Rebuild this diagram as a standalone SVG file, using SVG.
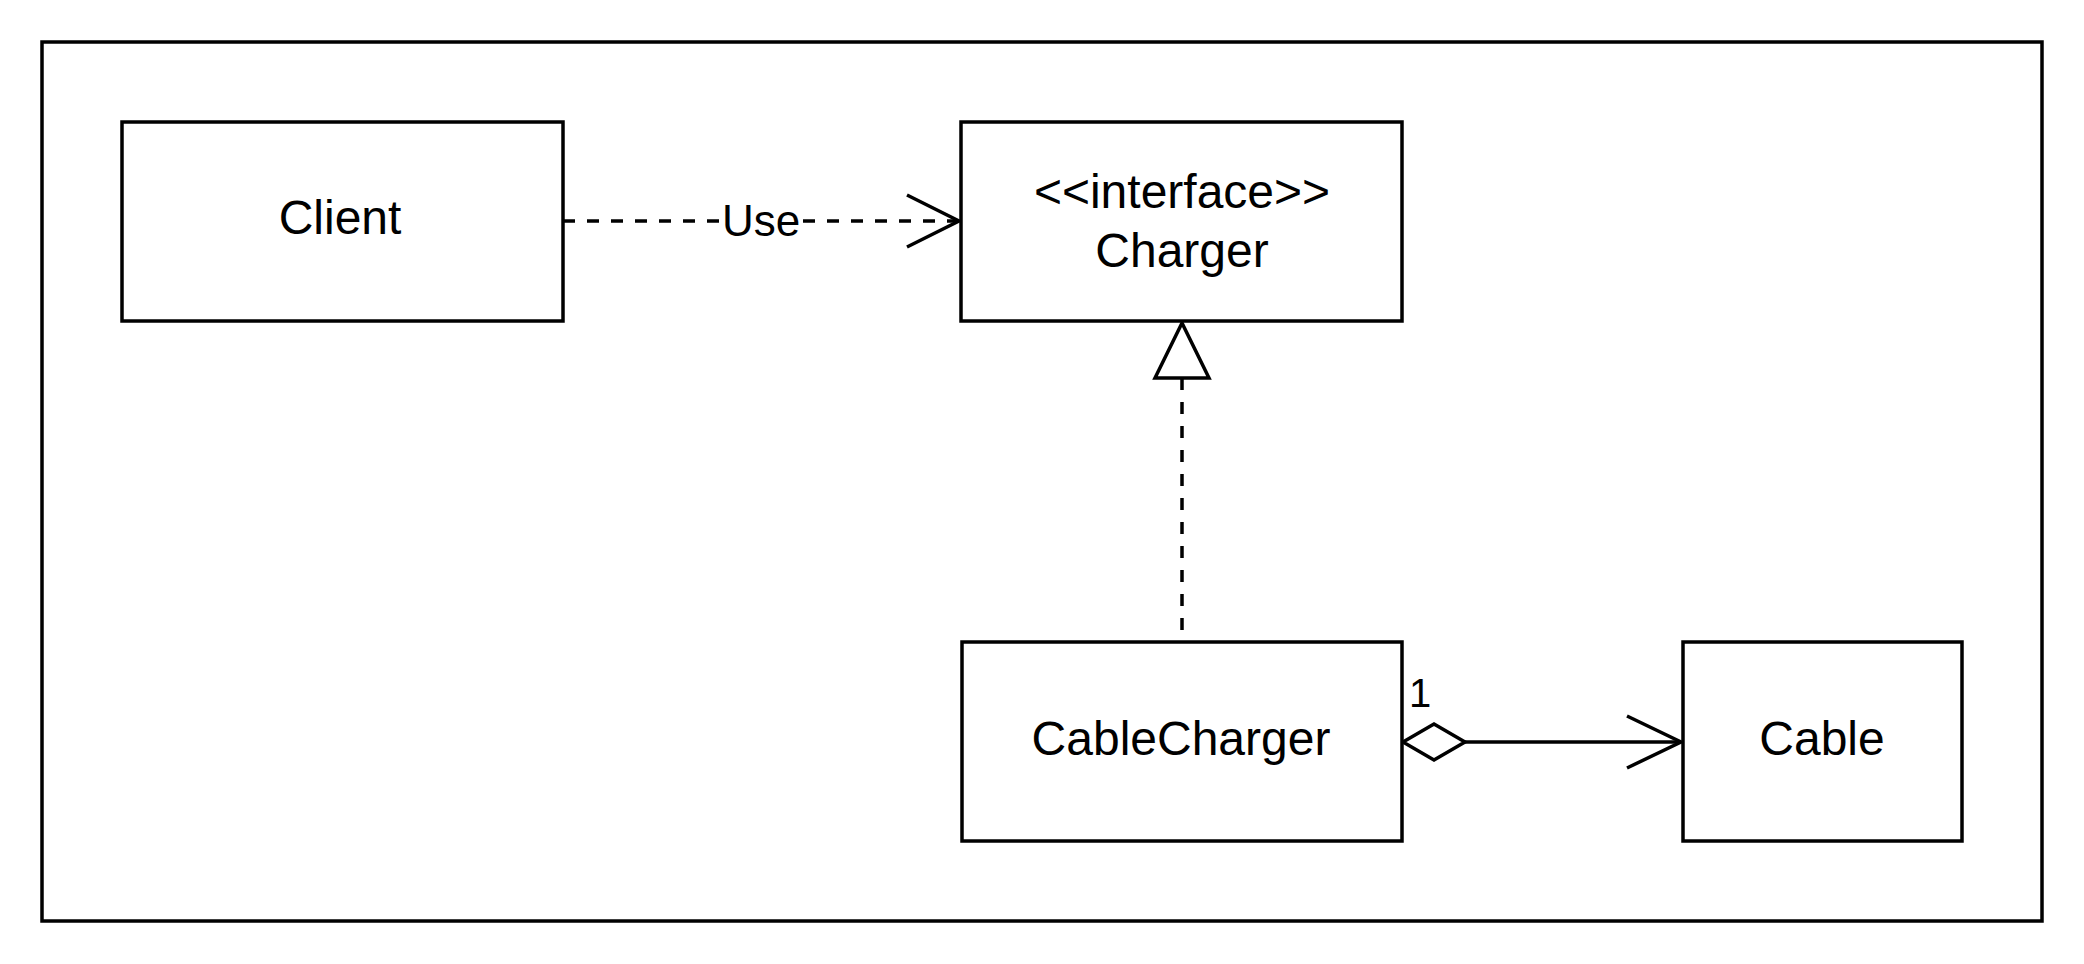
<svg xmlns="http://www.w3.org/2000/svg" width="2084" height="964" viewBox="0 0 2084 964">
<style>
.box{fill:#fff;stroke:#000;stroke-width:3.5}
.lbl{font-family:"Liberation Sans",Arial,sans-serif;font-size:48px;fill:#000;text-anchor:middle}
.ln{fill:none;stroke:#000;stroke-width:3.5}
.dash{stroke-dasharray:12 12}
</style>
<rect x="0" y="0" width="2084" height="964" fill="#fff"/>
<rect id="frame" x="42" y="42" width="2000" height="879" fill="none" stroke="#000" stroke-width="3.5"/>
<g id="connectors">
  <g id="use">
    <line class="ln dash" x1="563" y1="221" x2="959" y2="221"/>
    <polyline class="ln" points="907,195 959,221 907,247"/>
    <rect x="722" y="200" width="78" height="40" fill="#fff"/>
    <text class="lbl" x="761" y="236" style="font-size:44px">Use</text>
  </g>
  <g id="realization">
    <line class="ln dash" x1="1182" y1="378" x2="1182" y2="642"/>
    <polygon class="ln" fill="#fff" points="1182,323 1155,378 1209,378"/>
  </g>
  <g id="aggregation">
    <line class="ln" x1="1465" y1="742" x2="1681" y2="742"/>
    <polygon class="ln" fill="#fff" points="1403,742 1434,724 1465,742 1434,760"/>
    <polyline class="ln" points="1627,716 1681,742 1627,768"/>
    <text class="lbl" x="1420" y="707" style="font-size:40px">1</text>
  </g>
</g>
<g id="client">
  <rect class="box" x="122" y="122" width="441" height="199"/>
  <text class="lbl" x="340" y="234">Client</text>
</g>
<g id="charger">
  <rect class="box" x="961" y="122" width="441" height="199"/>
  <text class="lbl" x="1182" y="208">&lt;&lt;interface&gt;&gt;</text>
  <text class="lbl" x="1182" y="267">Charger</text>
</g>
<g id="cablecharger">
  <rect class="box" x="962" y="642" width="440" height="199"/>
  <text class="lbl" x="1181" y="755">CableCharger</text>
</g>
<g id="cable">
  <rect class="box" x="1683" y="642" width="279" height="199"/>
  <text class="lbl" x="1822" y="755">Cable</text>
</g>
</svg>
